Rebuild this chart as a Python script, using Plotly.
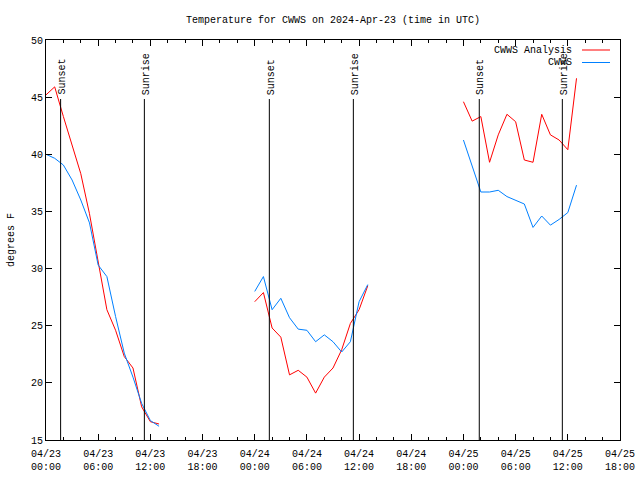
import plotly.graph_objects as go
import pandas as pd

# hour offsets from 2024-04-23 00:00 UTC
hours_seg1 = [0, 1, 2, 3, 4, 5, 6, 7, 8, 9, 10, 11, 12, 13]
hours_seg2 = [24, 25, 26, 27, 28, 29, 30, 31, 32, 33, 34, 35, 36, 37]
hours_seg3 = [48, 49, 50, 51, 52, 53, 54, 55, 56, 57, 58, 59, 60, 61]

analysis_seg1 = [45.2, 45.9, 43.3, 40.7, 38.3, 34.8, 30.6, 26.4, 24.6, 22.3, 21.3, 17.9, 16.6, 16.4]
analysis_seg2 = [27.1, 27.9, 24.8, 24.0, 20.7, 21.1, 20.5, 19.1, 20.5, 21.3, 22.9, 25.2, 26.4, 28.5]
analysis_seg3 = [44.6, 42.9, 43.3, 39.3, 41.7, 43.5, 42.85, 39.5, 39.3, 43.5, 41.7, 41.25, 40.4, 46.65]

obs_seg1 = [40.0, 39.65, 39.06, 37.75, 36.0, 34.0, 30.3, 29.3, 25.8, 22.6, 20.5, 18.2, 16.7, 16.2]
obs_seg2 = [28.0, 29.3, 26.4, 27.4, 25.7, 24.7, 24.6, 23.6, 24.2, 23.6, 22.7, 23.6, 27.1, 28.6]
obs_seg3 = [41.25, 39.06, 36.7, 36.7, 36.85, 36.3, 35.95, 35.65, 33.6, 34.6, 33.8, 34.3, 34.9, 37.3]

event_labels = ["Sunset", "Sunrise", "Sunset", "Sunrise", "Sunset", "Sunrise"]
event_hours = [1.68, 11.31, 25.68, 35.34, 49.82, 59.37]

series_names = ["CWWS Analysis", "CWWS"]
y_ticks = [15, 20, 25, 30, 35, 40, 45, 50]

base = pd.Timestamp("2024-04-23 00:00")


def ts(hlist):
    return [base + pd.Timedelta(hours=h) for h in hlist]


RED = "#ff0000"
BLUE = "#0080ff"
FONT = "Liberation Mono"

fig = go.Figure()


def joined(hs, vs):
    xs, ys = [], []
    for h, v in zip(hs, vs):
        if xs:
            xs.append(None)
            ys.append(None)
        xs.extend(ts(h))
        ys.extend(v)
    return xs, ys


xa, ya = joined([hours_seg1, hours_seg2, hours_seg3], [analysis_seg1, analysis_seg2, analysis_seg3])
xo, yo = joined([hours_seg1, hours_seg2, hours_seg3], [obs_seg1, obs_seg2, obs_seg3])

fig.add_trace(go.Scatter(x=xa, y=ya, mode="lines", name=series_names[0],
                         line=dict(color=RED, width=1), connectgaps=False, showlegend=False))
fig.add_trace(go.Scatter(x=xo, y=yo, mode="lines", name=series_names[1],
                         line=dict(color=BLUE, width=1), connectgaps=False, showlegend=False))

# sunrise / sunset lines
for lab, h in zip(event_labels, event_hours):
    t = base + pd.Timedelta(hours=h)
    fig.add_shape(type="line", xref="x", yref="paper", x0=t, x1=t, y0=0, y1=0.8525,
                  line=dict(color="black", width=1))
    fig.add_annotation(x=t, y=0.858, xref="x", yref="paper", text=lab, textangle=-90,
                       showarrow=False, xanchor="center", yanchor="bottom", xshift=2,
                       font=dict(family=FONT, size=10, color="black"))

# manual legend (text left of sample line, gnuplot style)
for i, (nm, col) in enumerate(zip(series_names, [RED, BLUE])):
    ypx = 50 + i * 12.5
    yp = 1 - (ypx - 40) / 400
    fig.add_annotation(x=(574 - 46) / 574, y=yp, xref="paper", yref="paper", text=nm,
                       showarrow=False, xanchor="right", yanchor="middle",
                       font=dict(family=FONT, size=10, color="black"))
    fig.add_shape(type="line", xref="paper", yref="paper",
                  x0=(582 - 46) / 574, x1=(610 - 46) / 574, y0=yp, y1=yp,
                  line=dict(color=col, width=1))

fig.update_layout(
    width=640, height=480,
    margin=dict(l=46, r=20, t=40, b=40, autoexpand=False),
    paper_bgcolor="white", plot_bgcolor="white",
    font=dict(family=FONT, size=10, color="black"),
    title=dict(text="Temperature for CWWS on 2024-Apr-23 (time in UTC)",
               x=0.5, xref="paper", xanchor="center",
               y=1 - 19 / 480, yref="container", yanchor="middle",
               font=dict(family=FONT, size=10, color="black")),
)

fig.update_xaxes(
    type="date", automargin=False,
    range=[base, base + pd.Timedelta(hours=66)],
    tickmode="linear", tick0=base, dtick=6 * 3600 * 1000,
    tickformat="%m/%d<br>%H:%M",
    ticklabelstandoff=4,
    ticks="inside", ticklen=6, tickcolor="black", tickwidth=1,
    minor=dict(ticks="inside", ticklen=3, tickcolor="black", dtick=2 * 3600 * 1000, tick0=base),
    showline=True, linecolor="black", linewidth=1, mirror="allticks",
    showgrid=False, zeroline=False,
    tickfont=dict(family=FONT, size=10, color="black"),
)

fig.update_yaxes(
    automargin=False,
    range=[15, 50],
    tickmode="array", tickvals=y_ticks, ticktext=[str(v) for v in y_ticks],
    ticks="inside", ticklen=6, tickcolor="black", tickwidth=1,
    showline=True, linecolor="black", linewidth=1, mirror="allticks",
    showgrid=False, zeroline=False,
    tickfont=dict(family=FONT, size=10, color="black"),
    title=dict(text="degrees F", font=dict(family=FONT, size=10, color="black"), standoff=14),
)

fig.write_html("out.html", config={"displayModeBar": False},
               post_script="document.body.style.margin='0px';")
